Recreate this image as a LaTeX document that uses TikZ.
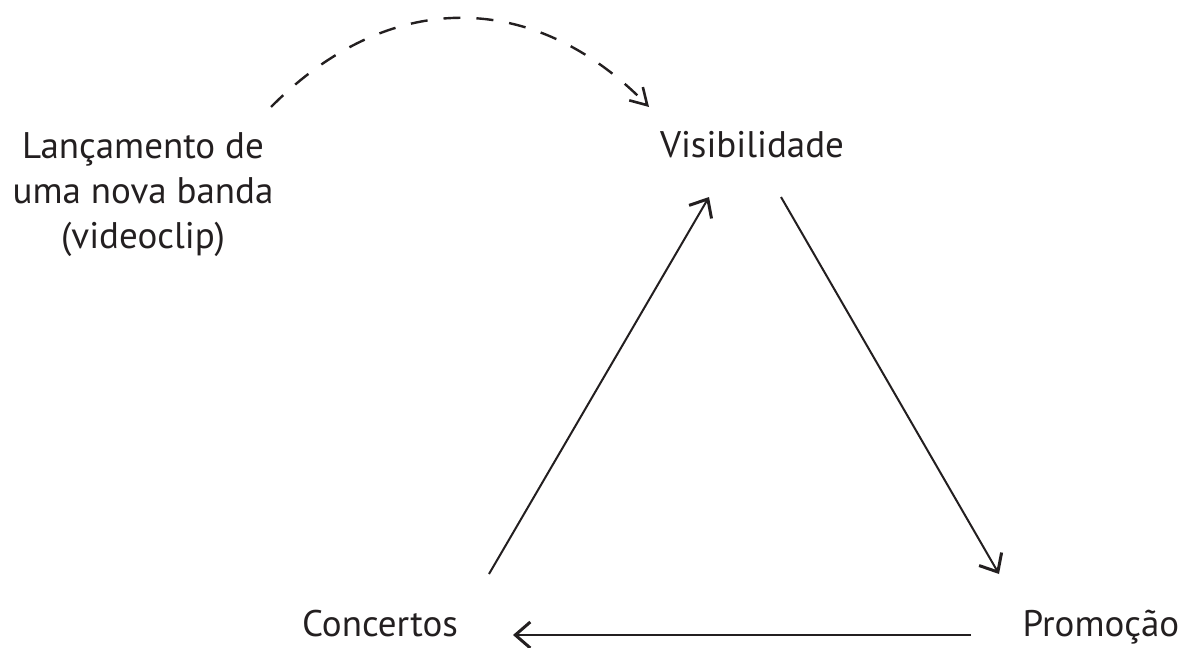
\documentclass[tikz,border=0pt]{standalone}
\usepackage{fontspec}
\setmainfont{PT Sans}
\usetikzlibrary{arrows.meta}
\definecolor{ink}{HTML}{231F20}
\tikzset{
  label/.style={font=\fontsize{18.5}{22.5}\selectfont, text=ink, inner sep=0pt, anchor=base},
  flow/.style={draw=ink, line width=1pt, -{Straight Barb[length=7.5pt,width=13pt,line width=1.5pt]}},
  hint/.style={draw=ink, line width=1.2pt, dash pattern=on 8.5pt off 8pt,
    -{Straight Barb[length=8pt,width=9.5pt,line width=1.3pt]}}
}
\begin{document}
\begin{tikzpicture}[x=0.5pt, y=-0.5pt]
  \useasboundingbox (0,0) rectangle (1185,648);
  % labels (the multi-line node sits on the baseline of its last line)
  \node[label, align=center] (launch) at (143,248) {Lançamento de\\uma nova banda\\(videoclip)};
  \node[label] (vis) at (752,157) {Visibilidade};
  \node[label] (conc) at (380,636) {Concertos};
  \node[label] (promo) at (1101,636) {Promoção};
  % connector ends
  \coordinate (launch-out) at (271,107);
  \coordinate (vis-in) at (649,107);
  \coordinate (conc-out) at (489,574);
  \coordinate (vis-in2) at (709,197);
  \coordinate (vis-out) at (781,197);
  \coordinate (promo-in) at (999,574);
  \coordinate (promo-out) at (971,635);
  \coordinate (conc-in) at (513,635);
  % connectors
  \draw[hint] (launch-out) .. controls (390,-13) and (535,-10) .. (vis-in);
  \draw[flow] (conc-out) -- (vis-in2);
  \draw[flow] (vis-out) -- (promo-in);
  \draw[flow] (promo-out) -- (conc-in);
\end{tikzpicture}
\end{document}
